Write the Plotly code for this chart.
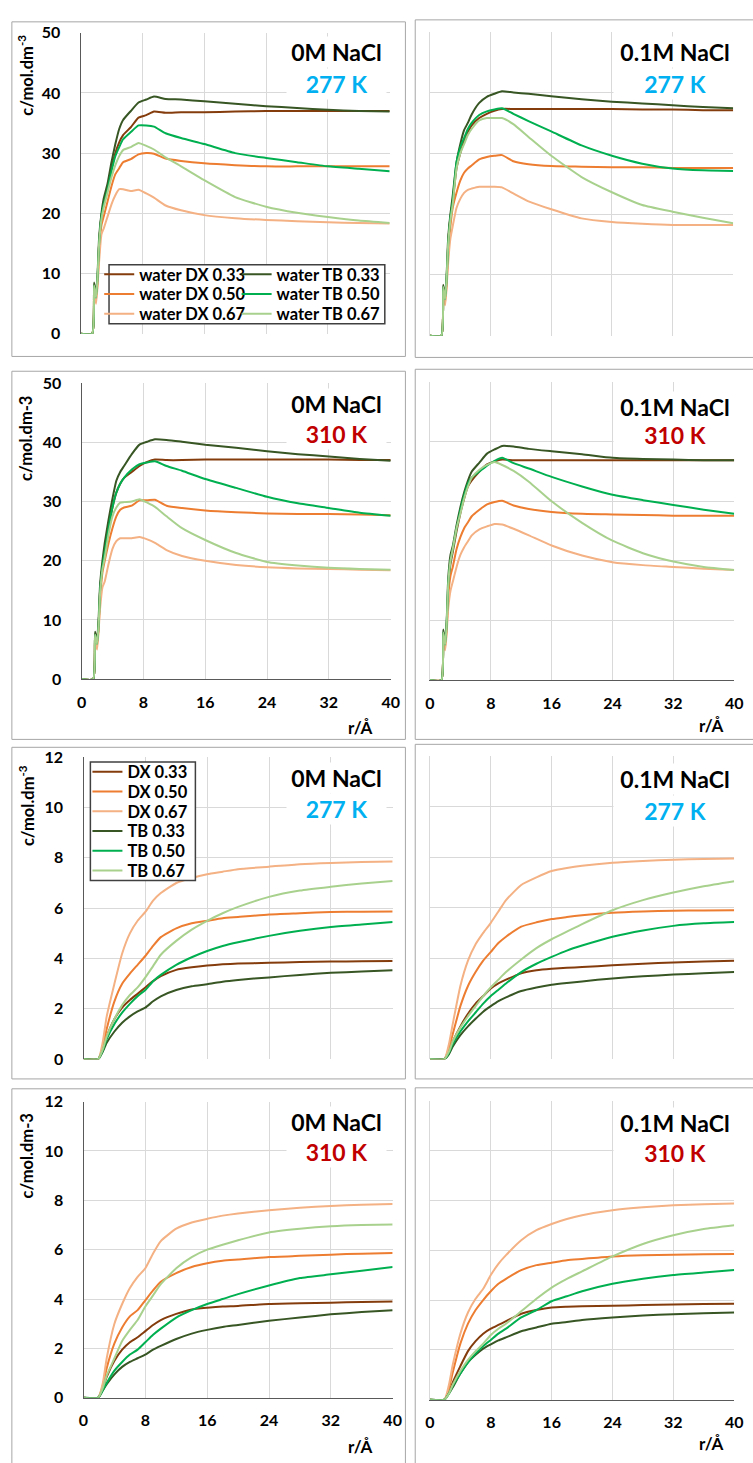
import plotly.graph_objects as go

W, H = 753, 1463
FONT = "Lato"

# ---------------- data ----------------
r_water = [0, 1.5, 1.75, 2.0, 2.2, 2.4, 2.7, 3.0, 3.5, 4.0, 4.5, 5.0, 5.5, 6.5, 7.5, 8.5, 9.5, 11, 13, 16, 20, 24, 28, 32, 36, 40]
r_solute = [0, 1.9, 2.5, 3, 4, 5, 6, 7, 8, 9, 10, 12, 14, 16, 18, 20, 24, 28, 32, 36, 40]

series_names = ["DX 0.33", "DX 0.50", "DX 0.67", "TB 0.33", "TB 0.50", "TB 0.67"]
series_colors = ["#843c0c", "#ed7d31", "#f4b183", "#375623", "#00b050", "#a9d18e"]

# water, 0M NaCl, 277 K
w0_277_dx33 = [0, 0, 8, 6, 9, 15, 19.5, 21.5, 24, 27.5, 30, 31.8, 33, 34.3, 35.9, 36.3, 36.9, 36.7, 36.8, 36.8, 36.9, 37.0, 37.0, 37.0, 37.0, 37.0]
w0_277_dx50 = [0, 0, 7.5, 5.5, 8.5, 13.5, 18, 19.5, 22, 24.5, 26.5, 27.5, 28.5, 29.0, 29.8, 30.0, 29.9, 29.1, 28.7, 28.3, 28.0, 27.8, 27.8, 27.8, 27.8, 27.8]
w0_277_dx67 = [0, 0, 7, 5, 8, 12, 16.5, 17.5, 19.5, 21.5, 23.0, 24.0, 24.0, 23.7, 23.9, 23.3, 22.6, 21.3, 20.5, 19.7, 19.2, 18.9, 18.7, 18.5, 18.4, 18.3]
w0_277_tb33 = [0, 0, 8.5, 6.5, 10, 16, 20, 22.5, 25, 28.5, 31.5, 34, 35.5, 37, 38.4, 38.9, 39.4, 39.0, 38.9, 38.6, 38.2, 37.8, 37.5, 37.2, 37.0, 36.9]
w0_277_tb50 = [0, 0, 8, 6, 9.5, 15, 19.5, 21.5, 24, 27, 29.5, 31, 32.3, 33.5, 34.6, 34.6, 34.4, 33.3, 32.5, 31.5, 30.0, 29.2, 28.5, 27.8, 27.4, 27.0]
w0_277_tb67 = [0, 0, 8, 6, 9.5, 15, 19, 21, 23.5, 26, 28, 29.5, 30.5, 31.0, 31.7, 31.2, 30.6, 29.3, 27.8, 25.5, 22.7, 21.1, 20.1, 19.4, 18.8, 18.4]

# water, 0.1M NaCl, 277 K
w1_277_dx33 = [0, 0, 8, 6, 9, 15, 19.5, 22, 27.5, 30, 32, 33.5, 34.6, 35.8, 36.5, 37.0, 37.3, 37.3, 37.3, 37.3, 37.3, 37.3, 37.2, 37.2, 37.1, 37.1]
w1_277_dx50 = [0, 0, 7.5, 5.5, 8.5, 13.5, 18, 21, 23.5, 25.5, 26.8, 27.5, 28.0, 29.0, 29.4, 29.6, 29.7, 28.7, 28.2, 27.9, 27.8, 27.7, 27.7, 27.6, 27.6, 27.6]
w1_277_dx67 = [0, 0, 7, 5, 8, 12, 16, 18, 21, 22.5, 23.5, 24.0, 24.2, 24.5, 24.5, 24.5, 24.4, 23.4, 22.1, 20.8, 19.3, 18.7, 18.4, 18.2, 18.2, 18.2]
w1_277_tb33 = [0, 0, 8.4, 6.5, 10, 16, 20, 23, 28.5, 31.5, 33.8, 35, 36.4, 38.3, 39.3, 39.8, 40.2, 40.0, 39.8, 39.4, 38.9, 38.5, 38.2, 37.9, 37.6, 37.4]
w1_277_tb50 = [0, 0, 8, 6, 9.5, 15, 19.5, 22, 28.5, 31, 32.5, 34, 35, 36.3, 36.9, 37.2, 37.4, 36.5, 35.3, 33.6, 31.3, 29.6, 28.3, 27.5, 27.2, 27.1]
w1_277_tb67 = [0, 0, 8, 6, 9.5, 15, 19, 21.5, 27.5, 30, 31.5, 33, 34, 35.4, 35.8, 35.8, 35.8, 34.8, 32.7, 29.6, 26.1, 23.6, 21.5, 20.4, 19.4, 18.5]

# water, 0M NaCl, 310 K
w0_310_dx33 = [0, 0, 7.5, 6, 9, 15, 19, 21.5, 25.5, 29, 31.5, 33, 34, 35, 36.0, 36.7, 37.1, 37.0, 37.0, 37.1, 37.1, 37.1, 37.1, 37.1, 37.0, 37.0]
w0_310_dx50 = [0, 0, 7, 5.5, 8.5, 13.5, 18, 20, 23, 25.5, 27.5, 28.6, 29.0, 29.3, 30.2, 30.2, 30.3, 29.3, 28.9, 28.5, 28.2, 28.0, 27.9, 27.9, 27.8, 27.7]
w0_310_dx67 = [0, 0, 7, 5, 8, 12, 15.5, 16.5, 19.5, 22, 23.3, 23.8, 23.8, 23.8, 24.0, 23.6, 23.0, 21.8, 20.8, 20.0, 19.3, 18.9, 18.7, 18.6, 18.5, 18.4]
w0_310_tb33 = [0, 0, 8, 6.5, 10, 16, 20, 23, 27, 30.5, 33.5, 35, 36, 38, 39.6, 40.1, 40.5, 40.4, 40.1, 39.6, 39.1, 38.5, 38.0, 37.6, 37.2, 36.9]
w0_310_tb50 = [0, 0, 7.5, 6, 9, 15, 19, 21.5, 25.5, 29, 31.5, 33, 34, 35.4, 36.3, 36.6, 36.8, 36.0, 35.2, 33.8, 32.3, 30.8, 29.7, 28.9, 28.1, 27.6]
w0_310_tb67 = [0, 0, 7.5, 6, 9, 14.5, 18.5, 20.5, 24.5, 27.5, 29, 29.8, 29.9, 30.0, 30.4, 29.8, 29.1, 27.5, 25.5, 23.5, 21.3, 19.8, 19.2, 18.8, 18.6, 18.5]

# water, 0.1M NaCl, 310 K
w1_310_dx33 = [0, 0, 8, 6, 9, 15, 19.5, 21.5, 25, 28, 30.5, 32.5, 33.5, 35, 36.2, 36.7, 37.0, 36.9, 36.9, 36.9, 36.9, 36.9, 36.9, 36.9, 36.9, 36.9]
w1_310_dx50 = [0, 0, 7.5, 5.5, 8.5, 14, 17.5, 19, 22, 24, 25.5, 26.5, 27.5, 28.6, 29.5, 29.9, 30.1, 29.3, 28.7, 28.2, 27.9, 27.8, 27.7, 27.6, 27.6, 27.6]
w1_310_dx67 = [0, 0, 7, 5, 8, 12, 15, 16.5, 19, 21, 22.3, 23.3, 24.3, 25.3, 25.8, 26.2, 26.1, 25.4, 24.3, 22.6, 20.9, 19.8, 19.3, 19.0, 18.7, 18.5]
w1_310_tb33 = [0, 0, 8.5, 6.5, 10, 17, 21, 22.5, 26, 29, 31.5, 33.5, 35, 36.5, 38.0, 38.7, 39.3, 39.2, 38.8, 38.4, 37.9, 37.3, 37.1, 37.0, 36.9, 36.9]
w1_310_tb50 = [0, 0, 8, 6, 9.5, 16, 20, 22, 25.5, 28.5, 31, 33, 34, 35, 36.0, 36.8, 37.3, 36.4, 35.5, 34.1, 32.5, 31.1, 30.2, 29.4, 28.6, 27.9]
w1_310_tb67 = [0, 0, 8, 6, 9.5, 16, 20, 22, 25.5, 28, 30.5, 32.5, 34, 35.3, 36.1, 36.6, 36.1, 35.1, 33.3, 30.0, 26.4, 23.4, 21.3, 19.9, 19.0, 18.5]

# solute, 0M NaCl, 277 K
s0_277_dx33 = [0, 0, 0.4, 0.9, 1.6, 2.05, 2.35, 2.6, 2.85, 3.1, 3.3, 3.55, 3.65, 3.72, 3.77, 3.8, 3.83, 3.86, 3.88, 3.89, 3.9]
s0_277_dx50 = [0, 0, 0.5, 1.2, 2.3, 3.0, 3.4, 3.75, 4.1, 4.5, 4.85, 5.2, 5.4, 5.5, 5.6, 5.65, 5.75, 5.8, 5.85, 5.86, 5.87]
s0_277_dx67 = [0, 0, 0.7, 1.7, 3.0, 4.2, 5.0, 5.5, 5.85, 6.3, 6.6, 7.0, 7.2, 7.35, 7.45, 7.55, 7.65, 7.75, 7.8, 7.83, 7.85]
s0_277_tb33 = [0, 0, 0.3, 0.65, 1.1, 1.45, 1.7, 1.9, 2.05, 2.3, 2.5, 2.75, 2.9, 2.98, 3.08, 3.15, 3.25, 3.35, 3.43, 3.48, 3.53]
s0_277_tb50 = [0, 0, 0.35, 0.8, 1.4, 1.85, 2.2, 2.5, 2.75, 3.1, 3.35, 3.75, 4.05, 4.3, 4.5, 4.65, 4.9, 5.1, 5.25, 5.35, 5.45]
s0_277_tb67 = [0, 0, 0.4, 0.9, 1.6, 2.15, 2.55, 2.85, 3.25, 3.7, 4.15, 4.7, 5.15, 5.5, 5.8, 6.05, 6.45, 6.7, 6.85, 6.98, 7.08]

# solute, 0.1M NaCl, 277 K
s1_277_dx33 = [0, 0, 0.3, 0.7, 1.3, 1.8, 2.2, 2.5, 2.8, 3.0, 3.15, 3.4, 3.52, 3.58, 3.62, 3.65, 3.72, 3.78, 3.83, 3.87, 3.9]
s1_277_dx50 = [0, 0, 0.45, 1.0, 2.1, 2.9, 3.45, 3.9, 4.25, 4.6, 4.85, 5.25, 5.42, 5.55, 5.63, 5.7, 5.8, 5.85, 5.88, 5.89, 5.9]
s1_277_dx67 = [0, 0, 0.6, 1.4, 2.9, 3.9, 4.55, 5.0, 5.4, 5.85, 6.3, 6.9, 7.2, 7.45, 7.57, 7.66, 7.78, 7.85, 7.9, 7.93, 7.95]
s1_277_tb33 = [0, 0, 0.2, 0.5, 0.95, 1.3, 1.6, 1.88, 2.1, 2.3, 2.45, 2.7, 2.84, 2.95, 3.02, 3.08, 3.2, 3.28, 3.35, 3.4, 3.45]
s1_277_tb50 = [0, 0, 0.25, 0.6, 1.1, 1.5, 1.85, 2.2, 2.5, 2.75, 3.0, 3.45, 3.78, 4.05, 4.3, 4.5, 4.85, 5.1, 5.28, 5.38, 5.43]
s1_277_tb67 = [0, 0, 0.3, 0.7, 1.25, 1.7, 2.1, 2.5, 2.85, 3.15, 3.45, 3.95, 4.4, 4.75, 5.05, 5.35, 5.9, 6.3, 6.6, 6.85, 7.05]

# solute, 0M NaCl, 310 K
s0_310_dx33 = [0, 0, 0.4, 0.85, 1.5, 1.95, 2.25, 2.45, 2.7, 2.95, 3.15, 3.4, 3.58, 3.65, 3.7, 3.72, 3.8, 3.83, 3.85, 3.88, 3.9]
s0_310_dx50 = [0, 0, 0.5, 1.2, 2.2, 2.85, 3.3, 3.55, 3.95, 4.35, 4.7, 5.05, 5.3, 5.45, 5.55, 5.6, 5.7, 5.75, 5.8, 5.84, 5.87]
s0_310_dx67 = [0, 0, 0.6, 1.6, 3.0, 3.8, 4.45, 4.9, 5.25, 5.85, 6.35, 6.85, 7.1, 7.25, 7.38, 7.47, 7.6, 7.7, 7.77, 7.82, 7.85]
s0_310_tb33 = [0, 0, 0.3, 0.55, 0.95, 1.25, 1.45, 1.6, 1.75, 1.95, 2.1, 2.38, 2.6, 2.75, 2.87, 2.95, 3.12, 3.25, 3.38, 3.47, 3.55]
s0_310_tb50 = [0, 0, 0.3, 0.6, 1.1, 1.45, 1.75, 1.95, 2.25, 2.55, 2.8, 3.25, 3.55, 3.8, 4.0, 4.2, 4.55, 4.85, 5.0, 5.15, 5.3]
s0_310_tb67 = [0, 0, 0.4, 0.9, 1.6, 2.3, 2.75, 3.15, 3.7, 4.15, 4.6, 5.25, 5.7, 6.0, 6.2, 6.38, 6.7, 6.85, 6.95, 7.0, 7.02]

# solute, 0.1M NaCl, 310 K
s1_310_dx33 = [0, 0, 0.3, 0.7, 1.35, 1.95, 2.35, 2.65, 2.85, 3.0, 3.15, 3.45, 3.6, 3.7, 3.73, 3.75, 3.77, 3.8, 3.82, 3.84, 3.85]
s1_310_dx50 = [0, 0, 0.45, 1.1, 2.25, 3.05, 3.6, 4.0, 4.35, 4.65, 4.85, 5.2, 5.4, 5.5, 5.6, 5.65, 5.75, 5.8, 5.82, 5.84, 5.85]
s1_310_dx67 = [0, 0, 0.6, 1.4, 2.65, 3.5, 4.05, 4.45, 5.0, 5.45, 5.8, 6.4, 6.8, 7.05, 7.25, 7.4, 7.6, 7.72, 7.8, 7.84, 7.87]
s1_310_tb33 = [0, 0, 0.25, 0.5, 1.05, 1.5, 1.8, 2.05, 2.22, 2.38, 2.5, 2.75, 2.9, 3.05, 3.12, 3.2, 3.3, 3.38, 3.43, 3.47, 3.5]
s1_310_tb50 = [0, 0, 0.25, 0.55, 1.05, 1.5, 1.85, 2.15, 2.4, 2.65, 2.85, 3.3, 3.6, 3.95, 4.15, 4.35, 4.65, 4.85, 5.0, 5.1, 5.2]
s1_310_tb67 = [0, 0, 0.25, 0.6, 1.15, 1.6, 1.95, 2.25, 2.6, 2.85, 3.05, 3.55, 4.05, 4.5, 4.85, 5.15, 5.75, 6.25, 6.6, 6.85, 7.0]

x_ticks = [0, 8, 16, 24, 32, 40]
salt_labels = ["0M NaCl", "0.1M NaCl"]
temp_labels = ["277 K", "310 K"]
temp_colors = ["#00b0f0", "#c00000"]

# ---------------- layout helpers ----------------
def fx(px):
    return px / W

def fy(py):
    return 1 - py / H

panels = [
    ([w0_277_dx33, w0_277_dx50, w0_277_dx67, w0_277_tb33, w0_277_tb50, w0_277_tb67], r_water, 50, 10,
     (77, 392, 23, 328), (7, 408, 12, 351), True, False, 0, 0),
    ([w1_277_dx33, w1_277_dx50, w1_277_dx67, w1_277_tb33, w1_277_tb50, w1_277_tb67], r_water, 50, 10,
     (433, 742, 22, 330), (418, 770, 10, 352), False, False, 1, 0),
    ([w0_310_dx33, w0_310_dx50, w0_310_dx67, w0_310_tb33, w0_310_tb50, w0_310_tb67], r_water, 50, 10,
     (78, 393, 378, 678), (7, 408, 366, 739), True, True, 0, 1),
    ([w1_310_dx33, w1_310_dx50, w1_310_dx67, w1_310_tb33, w1_310_tb50, w1_310_tb67], r_water, 50, 10,
     (433, 743, 377, 679), (418, 770, 364, 739), False, True, 1, 1),
    ([s0_277_dx33, s0_277_dx50, s0_277_dx67, s0_277_tb33, s0_277_tb50, s0_277_tb67], r_solute, 12, 2,
     (80, 395, 757, 1063), (7, 408, 747, 1083), True, False, 0, 0),
    ([s1_277_dx33, s1_277_dx50, s1_277_dx67, s1_277_tb33, s1_277_tb50, s1_277_tb67], r_solute, 12, 2,
     (433, 743, 756, 1063), (418, 770, 744, 1083), False, False, 1, 0),
    ([s0_310_dx33, s0_310_dx50, s0_310_dx67, s0_310_tb33, s0_310_tb50, s0_310_tb67], r_solute, 12, 2,
     (80, 395, 1106, 1406), (7, 408, 1093, 1480), True, True, 0, 1),
    ([s1_310_dx33, s1_310_dx50, s1_310_dx67, s1_310_tb33, s1_310_tb50, s1_310_tb67], r_solute, 12, 2,
     (433, 743, 1105, 1408), (418, 770, 1092, 1480), False, True, 1, 1),
]

# legend cells: panel index -> list of (series index, legend id, text-start x px, row-center y px)
legend_cells = {
    0: [(0, "legend", 136, 268), (3, "legend2", 276, 268),
        (1, "legend3", 136, 288), (4, "legend4", 276, 288),
        (2, "legend5", 136, 308), (5, "legend6", 276, 308)],
    4: [(0, "legend7", 124, 772), (1, "legend8", 124, 792), (2, "legend9", 124, 812),
        (3, "legend10", 124, 832), (4, "legend11", 124, 852), (5, "legend12", 124, 872)],
}

fig = go.Figure()
shapes = []
annotations = []
layout_extra = {}

tick_font = dict(family=FONT, size=16, color="#000000", weight="bold")
leg_font = dict(family=FONT, size=16.5, color="#000000", weight="bold")

for i, (ser, rr, ymax, dt, box, frame, is_left, is_bottom, si, ti) in enumerate(panels):
    n = i + 1
    xa = "x" if n == 1 else f"x{n}"
    ya = "y" if n == 1 else f"y{n}"
    cells = {c[0]: c for c in legend_cells.get(i, [])}
    for k in range(6):
        name = ("water " + series_names[k]) if i < 4 else series_names[k]
        tr = go.Scatter(x=rr, y=ser[k], mode="lines", name=name,
                        line=dict(color=series_colors[k], width=2, shape="spline", smoothing=0.5),
                        xaxis=xa, yaxis=ya, showlegend=k in cells, hoverinfo="skip")
        if k in cells:
            _, lid, tx, tyc = cells[k]
            tr.legend = lid
            layout_extra[lid] = dict(
                x=fx(tx - 40), y=fy(tyc), xanchor="left", yanchor="middle",
                orientation="v", bgcolor="rgba(0,0,0,0)", borderwidth=0, font=leg_font,
                itemwidth=30, itemclick=False, itemdoubleclick=False)
        fig.add_trace(tr)

    x0, x1, y0, y1 = box
    xkey = "xaxis" if n == 1 else f"xaxis{n}"
    ykey = "yaxis" if n == 1 else f"yaxis{n}"
    layout_extra[xkey] = dict(
        domain=[fx(x0), fx(x1)], range=[0, 40], tickvals=x_ticks, anchor=ya,
        showgrid=True, gridcolor="#d9d9d9", gridwidth=1, zeroline=False,
        showline=is_bottom, linecolor="#595959", linewidth=1.3,
        showticklabels=is_bottom, ticks="", tickfont=tick_font, ticklabelstandoff=8,
    )
    layout_extra[ykey] = dict(
        domain=[fy(y1), fy(y0)], range=[0, ymax], dtick=dt, tick0=0, anchor=xa,
        showgrid=True, gridcolor="#d9d9d9", gridwidth=1, zeroline=False,
        showline=True, linecolor="#595959" if is_left else "#d9d9d9",
        linewidth=1.3 if is_left else 1,
        showticklabels=is_left, ticks="", tickfont=tick_font, ticklabelstandoff=16,
    )
    fx0, fx1, fy0, fy1 = frame
    shapes.append(dict(type="rect", xref="paper", yref="paper",
                       x0=fx(fx0), x1=fx(fx1), y0=fy(fy1), y1=fy(fy0),
                       line=dict(color="#a6a6a6", width=1), fillcolor="rgba(0,0,0,0)", layer="below"))

    cx = 338 if is_left else 683
    bw = 97 if is_left else 120
    ty1 = {0: 43, 2: 399, 4: 778, 6: 1127, 1: 43, 3: 402, 5: 779, 7: 1128}[i]
    ty2 = {0: 75, 2: 430, 4: 810, 6: 1157, 1: 75, 3: 431, 5: 812, 7: 1158}[i]
    annotations.append(dict(xref="paper", yref="paper", x=fx(cx), y=fy(ty1), xanchor="center", yanchor="middle",
                            text=salt_labels[si], showarrow=False, bgcolor="#ffffff", width=bw,
                            font=dict(family=FONT, size=23, color="#000000", weight="bold")))
    annotations.append(dict(xref="paper", yref="paper", x=fx(cx), y=fy(ty2), xanchor="center", yanchor="middle",
                            text=temp_labels[ti], showarrow=False, bgcolor="#ffffff", width=bw,
                            font=dict(family=FONT, size=23, color=temp_colors[ti], weight="bold")))
    if is_left:
        ytxt = "c/mol.dm<sup>-3</sup>" if i in (0, 4) else "c/mol.dm-3"
        yc = {0: 66, 2: 434, 4: 806, 6: 1161}[i]
        annotations.append(dict(xref="paper", yref="paper", x=fx(22), y=fy(yc), xanchor="center", yanchor="middle",
                                text=ytxt, textangle=-90, showarrow=False,
                                font=dict(family=FONT, size=16.5, color="#000000", weight="bold")))
    if is_bottom:
        rx = 362 if is_left else 720
        ry = {2: 727, 3: 725, 6: 1455, 7: 1452}[i]
        annotations.append(dict(xref="paper", yref="paper", x=fx(rx), y=fy(ry), xanchor="center", yanchor="middle",
                                text="r/Å", showarrow=False,
                                font=dict(family=FONT, size=17, color="#000000", weight="bold")))

# legend boxes
shapes.append(dict(type="rect", xref="paper", yref="paper", x0=fx(106), x1=fx(387), y0=fy(318), y1=fy(258),
                   line=dict(color="#404040", width=1.5), fillcolor="#ffffff", layer="above"))
shapes.append(dict(type="rect", xref="paper", yref="paper", x0=fx(87), x1=fx(194), y0=fy(882), y1=fy(762),
                   line=dict(color="#404040", width=1.5), fillcolor="#ffffff", layer="above"))

fig.update_layout(
    width=W, height=H, autosize=False,
    margin=dict(l=0, r=0, t=0, b=0),
    paper_bgcolor="#ffffff", plot_bgcolor="#ffffff",
    shapes=shapes, annotations=annotations,
    showlegend=True,
    **layout_extra,
)

fig.write_html("out.html", config={"displayModeBar": False},
               post_script="document.body.style.margin='0';document.body.style.overflow='hidden';")
